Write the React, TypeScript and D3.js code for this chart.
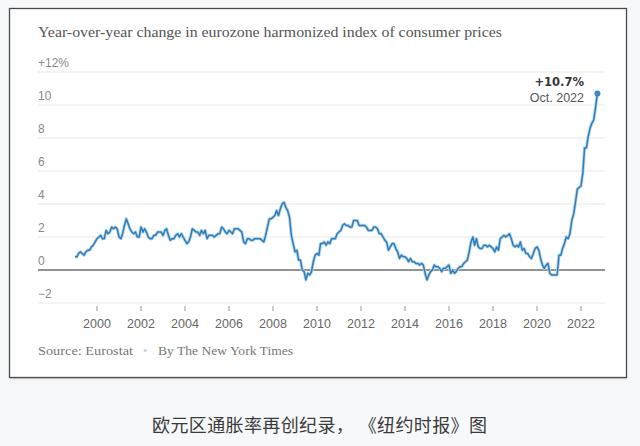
import React from "react";
import * as d3 from "d3";

const startYear = 1999;
const values: number[] = [
  // 1999
  0.8, 0.8, 1.0, 1.1, 1.0, 0.9, 1.1, 1.2, 1.2, 1.4, 1.5, 1.7,
  // 2000
  1.9, 2.0, 2.1, 1.9, 1.9, 2.4, 2.2, 2.3, 2.6, 2.5, 2.6, 2.5,
  // 2001
  2.0, 1.9, 2.2, 2.7, 3.1, 2.8, 2.5, 2.3, 2.2, 2.3, 2.0, 2.0,
  // 2002
  2.6, 2.3, 2.5, 2.3, 2.0, 1.9, 1.9, 2.1, 2.1, 2.3, 2.3, 2.3,
  // 2003
  2.1, 2.4, 2.5, 2.1, 1.8, 1.9, 1.9, 2.1, 2.2, 2.0, 2.2, 2.0,
  // 2004
  1.8, 1.6, 1.7, 2.0, 2.5, 2.4, 2.3, 2.3, 2.1, 2.4, 2.2, 2.4,
  // 2005
  1.9, 2.1, 2.1, 2.1, 2.0, 2.1, 2.2, 2.2, 2.6, 2.5, 2.3, 2.2,
  // 2006
  2.4, 2.3, 2.2, 2.5, 2.5, 2.5, 2.4, 2.3, 1.7, 1.6, 1.9, 1.9,
  // 2007
  1.8, 1.8, 1.9, 1.9, 1.9, 1.9, 1.8, 1.7, 2.1, 2.6, 3.1, 3.1,
  // 2008
  3.2, 3.3, 3.6, 3.3, 3.7, 4.0, 4.1, 3.8, 3.6, 3.2, 2.1, 1.6,
  // 2009
  1.1, 1.2, 0.6, 0.6, 0.0, -0.1, -0.6, -0.2, -0.3, -0.1, 0.5, 0.9,
  // 2010
  1.0, 0.9, 1.6, 1.6, 1.7, 1.5, 1.7, 1.6, 1.9, 1.9, 1.9, 2.2,
  // 2011
  2.3, 2.4, 2.7, 2.8, 2.7, 2.7, 2.6, 2.6, 3.0, 3.0, 3.0, 2.7,
  // 2012
  2.7, 2.7, 2.7, 2.6, 2.4, 2.4, 2.4, 2.6, 2.6, 2.5, 2.2, 2.2,
  // 2013
  2.0, 1.8, 1.7, 1.2, 1.4, 1.6, 1.6, 1.3, 1.1, 0.7, 0.9, 0.8,
  // 2014
  0.8, 0.7, 0.5, 0.7, 0.5, 0.5, 0.4, 0.4, 0.3, 0.4, 0.3, -0.2,
  // 2015
  -0.6, -0.3, -0.1, 0.0, 0.3, 0.2, 0.2, 0.1, -0.1, 0.1, 0.1, 0.2,
  // 2016
  0.3, -0.2, 0.0, -0.2, -0.1, 0.1, 0.2, 0.2, 0.4, 0.5, 0.6, 1.1,
  // 2017
  1.7, 2.0, 1.5, 1.9, 1.4, 1.3, 1.3, 1.5, 1.5, 1.4, 1.5, 1.4,
  // 2018
  1.3, 1.1, 1.4, 1.2, 1.9, 2.0, 2.1, 2.0, 2.1, 2.2, 1.9, 1.5,
  // 2019
  1.4, 1.5, 1.4, 1.7, 1.2, 1.3, 1.0, 1.0, 0.8, 0.7, 1.0, 1.3,
  // 2020
  1.4, 1.2, 0.7, 0.3, 0.1, 0.3, 0.4, -0.2, -0.3, -0.3, -0.3, -0.3,
  // 2021
  0.9, 0.9, 1.3, 1.6, 2.0, 1.9, 2.2, 3.0, 3.4, 4.1, 4.9, 5.0,
  // 2022
  5.1, 5.9, 7.4, 7.4, 8.1, 8.6, 8.9, 9.1, 9.9, 10.7,
];

const yTicks = [-2, 0, 2, 4, 6, 8, 10, 12];
const yTickLabels = ["\u22122", "0", "2", "4", "6", "8", "10", "+12%"];
const xTickYears = [2000, 2002, 2004, 2006, 2008, 2010, 2012, 2014, 2016, 2018, 2020, 2022];

const titleText = "Year-over-year change in eurozone harmonized index of consumer prices";
const annotValue = "+10.7%";
const annotDate = "Oct. 2022";
const sourceText = "Source: Eurostat";
const bylineText = "By The New York Times";
const captionText = "欧元区通胀率再创纪录， 《纽约时报》图";

export default function App() {
  const W = 640;
  const H = 446;
  const data = values.map((v, i) => ({
    date: new Date(startYear + Math.floor(i / 12), i % 12, 1),
    v,
  }));

  const x = d3
    .scaleTime()
    .domain([new Date(2000, 0, 1), new Date(2022, 0, 1)])
    .range([97, 581]);
  const y = d3.scaleLinear().domain([-2, 12]).range([303, 72]);

  const line = d3
    .line<{ date: Date; v: number }>()
    .x((d) => x(d.date))
    .y((d) => y(d.v));
  const path = line(data) || "";
  const last = data[data.length - 1];

  const gridX0 = 38;
  const gridX1 = 605;

  return (
    <div style={{ position: "fixed", left: 0, top: 0, width: W, height: H, background: "#f7f8fa" }}>
      <svg width={W} height={H} style={{ display: "block" }}>
        <rect x={0} y={0} width={W} height={H} fill="#f7f8fa" />
        <rect x={10} y={10.5} width={617} height={369} fill="#d8d9dc" />
        <rect x={9.5} y={8.5} width={617} height={369} fill="#ffffff" stroke="#4a4a4a" strokeWidth={1.3} />

        <text
          x={38}
          y={37}
          fontFamily="'Liberation Serif', 'DejaVu Serif', serif"
          fontSize={15.5}
          fill="#555"
          textLength={464}
          lengthAdjust="spacingAndGlyphs"
        >
          {titleText}
        </text>

        {yTicks.map((t, i) => (
          <g key={t}>
            {t !== 0 && (
              <line x1={gridX0} x2={gridX1} y1={y(t)} y2={y(t)} stroke="#e6e7ea" strokeWidth={1} />
            )}
            <text
              x={38}
              y={y(t) - 5}
              fontFamily="'Liberation Sans', Arial, sans-serif"
              fontSize={12}
              fill="#8a8a8a"
            >
              {yTickLabels[i]}
            </text>
          </g>
        ))}

        {xTickYears.map((yr) => (
          <g key={yr}>
            <line
              x1={x(new Date(yr, 0, 1))}
              x2={x(new Date(yr, 0, 1))}
              y1={306}
              y2={311}
              stroke="#999"
              strokeWidth={1}
            />
            <text
              x={x(new Date(yr, 0, 1))}
              y={328}
              textAnchor="middle"
              fontFamily="'Liberation Sans', Arial, sans-serif"
              fontSize={12.5}
              fill="#666"
            >
              {yr}
            </text>
          </g>
        ))}

        <line x1={gridX0} x2={gridX1} y1={y(0)} y2={y(0)} stroke="#6e6e6e" strokeWidth={1.6} />

        <path d={path} fill="none" stroke="#b5d5ec" strokeWidth={3.2} strokeLinejoin="round" />
        <path d={path} fill="none" stroke="#2f7db8" strokeWidth={1.5} strokeLinejoin="round" />
        <circle cx={x(last.date)} cy={y(last.v)} r={3} fill="#3b8bc2" />

        <text
          x={584}
          y={86}
          textAnchor="end"
          fontFamily="'DejaVu Sans', sans-serif"
          fontWeight="bold"
          fontSize={11.5}
          fill="#333"
        >
          {annotValue}
        </text>
        <text
          x={584}
          y={102}
          textAnchor="end"
          fontFamily="'Liberation Sans', Arial, sans-serif"
          fontSize={12.5}
          fill="#555"
        >
          {annotDate}
        </text>

        <text
          x={38}
          y={355}
          fontFamily="'Liberation Serif', 'DejaVu Serif', serif"
          fontSize={13}
          fill="#777"
          textLength={95}
          lengthAdjust="spacingAndGlyphs"
        >
          {sourceText}
        </text>
        <text x={143} y={355} fontFamily="'Liberation Serif', serif" fontSize={12} fill="#ccc">
          •
        </text>
        <text
          x={158}
          y={355}
          fontFamily="'Liberation Serif', 'DejaVu Serif', serif"
          fontSize={13}
          fill="#777"
          textLength={135}
          lengthAdjust="spacingAndGlyphs"
        >
          {bylineText}
        </text>

        <text
          x={152}
          y={432}
          fontFamily="'Noto Sans CJK SC', sans-serif"
          fontSize={18}
          fill="#3a3a3a"
          textLength={335}
          lengthAdjust="spacing"
        >
          {captionText}
        </text>
      </svg>
    </div>
  );
}
